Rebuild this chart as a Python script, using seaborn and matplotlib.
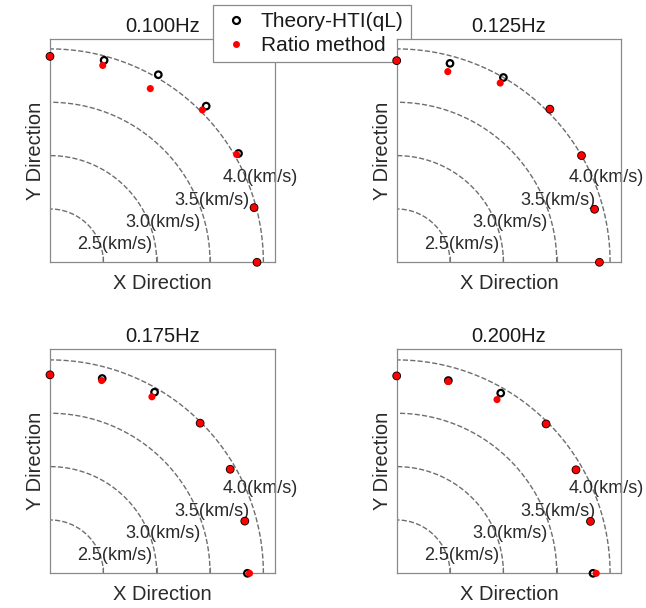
import numpy as np
import pandas as pd
import matplotlib
matplotlib.use("Agg")
import matplotlib.pyplot as plt
from matplotlib.lines import Line2D
import seaborn as sns

# ---------------- data ----------------
angles_deg = [90, 75, 60, 45, 30, 15, 0]
freq_titles = ["0.100Hz", "0.125Hz", "0.175Hz", "0.200Hz"]

theory_100 = [3.93, 3.96, 4.03, 4.07, 4.04, 3.98, 3.94]
ratio_100 = [3.93, 3.91, 3.88, 4.02, 4.02, 3.98, 3.94]
theory_125 = [3.89, 3.93, 4.00, 4.03, 4.00, 3.92, 3.90]
ratio_125 = [3.89, 3.85, 3.94, 4.03, 4.00, 3.92, 3.90]
theory_175 = [3.86, 3.89, 3.96, 3.99, 3.95, 3.89, 3.85]
ratio_175 = [3.86, 3.87, 3.91, 3.99, 3.95, 3.89, 3.87]
theory_200 = [3.85, 3.87, 3.95, 3.98, 3.94, 3.88, 3.84]
ratio_200 = [3.85, 3.86, 3.88, 3.98, 3.94, 3.88, 3.87]

ring_speeds = [2.5, 3.0, 3.5, 4.0]
ring_labels = ["2.5(km/s)", "3.0(km/s)", "3.5(km/s)", "4.0(km/s)"]
r_origin = 2.0  # speed at the plot origin

series_theory = [theory_100, theory_125, theory_175, theory_200]
series_ratio = [ratio_100, ratio_125, ratio_175, ratio_200]

# ---------------- style ----------------
sns.set_theme(style="white")
plt.rcParams["font.family"] = ["Liberation Sans", "DejaVu Sans"]

W, H = 646, 608
fig = plt.figure(figsize=(W / 100, H / 100), dpi=100)

# axes boxes in pixels: left, top, right, bottom
boxes = [(50, 39, 275, 262.3), (396.7, 39, 621, 262.3),
         (50, 349.3, 275, 573.3), (396.7, 349.3, 621, 573.3)]

def to_xy(speeds, ang):
    r = np.asarray(speeds) - r_origin
    a = np.deg2rad(np.asarray(ang))
    return r * np.cos(a), r * np.sin(a)

gray = "#8a8a8a"
axes = []
for i, (l, t, r, b) in enumerate(boxes):
    ax = fig.add_axes([l / W, 1 - b / H, (r - l) / W, (b - t) / H])
    axes.append(ax)
    # dashed rings
    th = np.linspace(0, np.pi / 2, 200)
    for sp, lab in zip(ring_speeds, ring_labels):
        rr = sp - r_origin
        ax.plot(rr * np.cos(th), rr * np.sin(th), ls="--", lw=1.0,
                color="#6e6e6e", zorder=1)
        ax.text(0.909 * rr + 0.15, 0.419 * rr - 0.047, lab, fontsize=13,
                ha="center", va="center", color="#2a2a2a", zorder=2)
    tx, ty = to_xy(series_theory[i], angles_deg)
    rx, ry = to_xy(series_ratio[i], angles_deg)
    df_t = pd.DataFrame({"x": tx, "y": ty})
    df_r = pd.DataFrame({"x": rx, "y": ry})
    sns.scatterplot(data=df_t, x="x", y="y", ax=ax, s=22, facecolor="none",
                    edgecolor="black", linewidth=1.6, clip_on=False, zorder=3)
    sns.scatterplot(data=df_r, x="x", y="y", ax=ax, s=26, color="#ff0000",
                    edgecolor="none", linewidth=0, clip_on=False, zorder=4)
    ax.set_xlim(0, (r - l) / 106.7)
    ax.set_ylim(0, (b - t) / 106.7)
    ax.set_xticks([0.5, 1.0, 1.5])
    ax.set_xticklabels([])
    ax.set_yticks([])
    ax.tick_params(axis="x", direction="in", length=4, width=0.8, color=gray,
                   bottom=True)
    for s in ax.spines.values():
        s.set_color(gray)
        s.set_linewidth(0.9)
    ax.set_title(freq_titles[i], fontsize=14.5, color="#1a1a1a", pad=5)
    ax.set_xlabel("X Direction", fontsize=14.5, color="#2a2a2a", labelpad=5)
    ax.set_ylabel("Y Direction", fontsize=14.5, color="#2a2a2a", labelpad=3.5)

handles = [Line2D([], [], ls="none", marker="o", markersize=5,
                  markerfacecolor="none", markeredgecolor="black", markeredgewidth=1.6),
           Line2D([], [], ls="none", marker="o", markersize=5,
                  markerfacecolor="#ff0000", markeredgecolor="none")]
# legend attached to the first axes so the second axes is drawn over it
leg = axes[0].legend(handles, ["Theory-HTI(qL)", "Ratio method"], loc="upper left",
                     bbox_to_anchor=(212.7 / W, 1 - 4.7 / H),
                     bbox_transform=fig.transFigure, fontsize=15,
                     frameon=True, fancybox=False, edgecolor=gray, framealpha=1,
                     borderaxespad=0, borderpad=0.35, labelspacing=0.25,
                     handlelength=1.5, handletextpad=0.45)
leg.get_frame().set_linewidth(0.9)
for txt in leg.get_texts():
    txt.set_color("#1a1a1a")

fig.savefig("out.png", dpi=100)
